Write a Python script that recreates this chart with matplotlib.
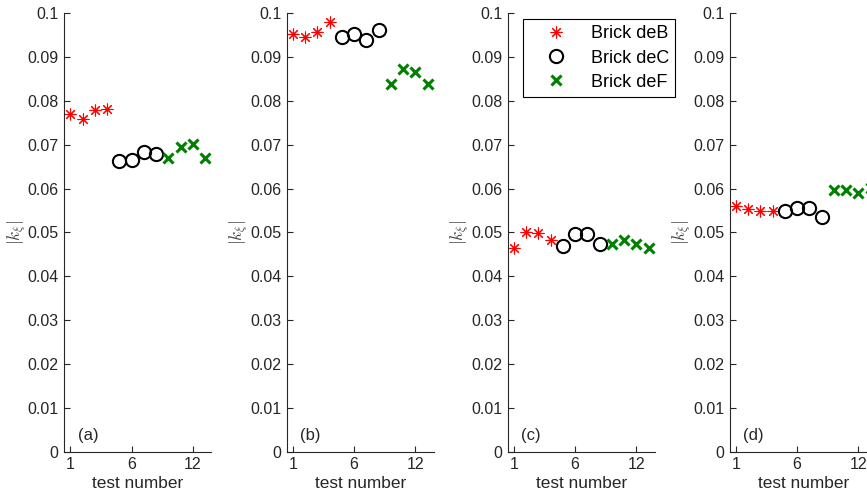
import matplotlib
matplotlib.use("Agg")
import matplotlib.pyplot as plt

plt.rcParams['font.family'] = ['Liberation Sans', 'DejaVu Sans']
plt.rcParams['mathtext.fontset'] = 'cm'

panel_labels = ['(a)', '(b)', '(c)', '(d)']
x_deB = [1, 2, 3, 4]
x_deC = [5, 6, 7, 8]
x_deF = [9, 10, 11, 12]

deB = [
    [0.0770, 0.0760, 0.0779, 0.0781],
    [0.0952, 0.0946, 0.0957, 0.0980],
    [0.0464, 0.0500, 0.0499, 0.0484],
    [0.0560, 0.0554, 0.0550, 0.0550],
]
deC = [
    [0.0662, 0.0665, 0.0684, 0.0678],
    [0.0947, 0.0952, 0.0940, 0.0963],
    [0.0469, 0.0496, 0.0496, 0.0473],
    [0.0550, 0.0556, 0.0556, 0.0535],
]
deF = [
    [0.0671, 0.0694, 0.0703, 0.0671],
    [0.0838, 0.0874, 0.0865, 0.0838],
    [0.0473, 0.0484, 0.0473, 0.0464],
    [0.0598, 0.0596, 0.0589, 0.0601],
]
xtick_pos = [1, 6, 11]
xtick_labels = ['1', '6', '12']
yticks = [0, 0.01, 0.02, 0.03, 0.04, 0.05, 0.06, 0.07, 0.08, 0.09, 0.1]
ytick_labels = ['0', '0.01', '0.02', '0.03', '0.04', '0.05', '0.06', '0.07', '0.08', '0.09', '0.1']
series_names = ['Brick deB', 'Brick deC', 'Brick deF']

W, H = 867, 500
fig = plt.figure(figsize=(W / 100, H / 100), dpi=100)

ax_w = 147 / W
ax_h = 438.4 / H
bottom = 48.3 / H
lefts = [64.3, 286.7, 507.7, 729.7]
axcol = '#262626'

for i in range(4):
    ax = fig.add_axes([lefts[i] / W, bottom, ax_w, ax_h])
    hB, = ax.plot(x_deB, deB[i], linestyle='none', marker=(8, 2, 0), ms=8.5,
                  mec='#ff0000', mew=0.8, color='#ff0000')
    hC, = ax.plot(x_deC, deC[i], linestyle='none', marker='o', ms=9.5,
                  mfc='none', mec='black', mew=1.5)
    hF, = ax.plot(x_deF, deF[i], linestyle='none', marker='x', ms=6.5,
                  mec='#008000', mew=2.2)
    ax.set_xlim(0.5, 12.5)
    ax.set_ylim(0, 0.1)
    ax.set_xticks(xtick_pos)
    ax.set_xticklabels(xtick_labels)
    ax.set_yticks(yticks)
    ax.set_yticklabels(ytick_labels)
    for s in ['top', 'right']:
        ax.spines[s].set_visible(False)
    for s in ['left', 'bottom']:
        ax.spines[s].set_color(axcol)
        ax.spines[s].set_linewidth(0.8)
    ax.tick_params(direction='in', length=4, width=0.8, colors=axcol,
                   labelsize=11.5, labelcolor=axcol, pad=4)
    ax.set_xlabel('test number', fontsize=12.4, color=axcol, labelpad=3)
    ax.set_ylabel(r'$|k_{\xi}|$', fontsize=12.5, color='#444444')
    ax.yaxis.set_label_coords(-0.24, 0.5)
    ax.text(1.6, 0.0036, panel_labels[i], fontsize=12, color=axcol,
            ha='left', va='center')
    ax.patch.set_alpha(0)
    if i == 2:
        leg = ax.legend([hB, hC, hF], series_names, loc='upper left',
                        bbox_to_anchor=(0.104, 0.987), fontsize=13,
                        frameon=True, fancybox=False, framealpha=1,
                        edgecolor='black', handlelength=3.0,
                        handletextpad=0.4, borderpad=0.35, labelspacing=0.4,
                        borderaxespad=0)
        leg.get_frame().set_linewidth(0.8)

fig.savefig('out.png', dpi=100)
